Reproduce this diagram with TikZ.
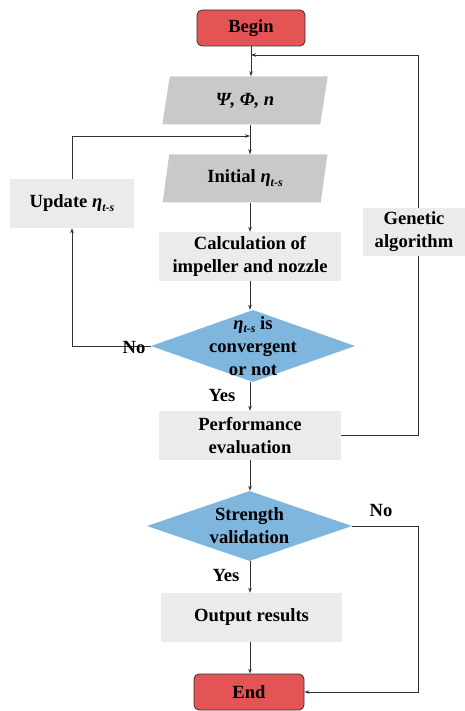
\documentclass[tikz,border=0pt]{standalone}
\usepackage{fontspec}
\setmainfont{Liberation Serif}
\usetikzlibrary{shapes.geometric,arrows.meta,backgrounds}
\definecolor{redfill}{RGB}{229,84,84}
\definecolor{parafill}{RGB}{200,201,203}
\definecolor{boxfill}{RGB}{235,235,235}
\definecolor{diafill}{RGB}{127,182,222}
\definecolor{linecol}{RGB}{50,50,50}
\newcommand{\etats}{\textit{η}\raisebox{-0.4ex}{\fontsize{12}{12}\selectfont\textit{t-s}}}
\begin{document}
\begin{tikzpicture}[x=1pt,y=-1pt,
  font=\fontsize{18.6}{23}\selectfont\bfseries,
  term/.style={draw=linecol, line width=0.8pt, fill=redfill, rounded corners=5pt, minimum width=108pt, minimum height=36pt, inner sep=0pt},
  io/.style={shape=trapezium, trapezium left angle=79, trapezium right angle=101, trapezium stretches=true, fill=parafill, minimum width=166pt, minimum height=48pt, inner sep=0pt},
  proc/.style={fill=boxfill, minimum height=49pt, inner sep=0pt, align=center},
  dia/.style={shape=diamond, fill=diafill, inner sep=0pt},
  lbl/.style={inner sep=0pt},
  arr/.style={draw=linecol, line width=0.7pt, -{Stealth[length=5pt,width=3.5pt]}},
  ln/.style={draw=linecol, line width=0.7pt}]
\useasboundingbox (0,0) rectangle (465,711);
\node[term] (begin) at (251,28) {Begin};
\node[io] (psi) at (245,100.5) {\textit{Ψ, Φ, n}};
\node[io] (init) at (245,178.5) {Initial \etats};
\node[proc, minimum width=124pt] (upd) at (72,203.5) {Update \etats};
\node[proc, minimum width=182pt] (calc) at (250,256.5) {Calculation of\\impeller and nozzle};
\node[proc, minimum width=102pt, minimum height=48pt] (gen) at (414,232) {Genetic\\algorithm};
\node[dia, minimum width=204pt, minimum height=72pt] (d1) at (253,346) {};
\node[lbl, align=center] (d1t) at (d1.center) {\etats{} is\\convergent\\or not};
\node[proc, minimum width=182pt] (perf) at (250,435.5) {Performance\\evaluation};
\node[dia, minimum width=205pt, minimum height=70pt] (d2) at (249.5,526) {};
\node[lbl, align=center] (d2t) at (d2.center) {Strength\\validation};
\node[proc, minimum width=181pt] (out) at (251.5,617.5) {Output results};
\node[term, minimum width=110pt] (endn) at (249,692) {End};
\node[lbl] (no1) at (134,347) {No};
\node[lbl] (yes1) at (222,395) {Yes};
\node[lbl] (no2) at (381,510) {No};
\node[lbl] (yes2) at (226,575) {Yes};
\coordinate (j1) at (250,136);
\coordinate (j2) at (251,55);
\coordinate (gx) at (418,0);
\coordinate (sp) at (250,0);
\begin{pgfonlayer}{background}
\draw[arr] (begin.south) -- (begin.south |- psi.north);
\draw[arr] (psi.south -| sp) -- (init.north -| sp);
\draw[arr] (init.south -| sp) -- (calc.north -| sp);
\draw[arr] (calc.south -| sp) -- (d1.north -| sp);
\draw[arr] (d1.south -| sp) -- (perf.north -| sp);
\draw[arr] (perf.south -| sp) -- (d2.north -| sp);
\draw[arr] (d2.south -| sp) -- (out.north -| sp);
\draw[arr] (out.south -| sp) -- (endn.north -| sp);
\draw[arr] (d1.west) -| (upd.south);
\draw[arr] (upd.north) |- (j1);
\draw[arr] (perf.east) -- (perf.east -| gx) -- (gx |- j2) -- (j2);
\draw[arr] (d2.east) -- (d2.east -| gx) |- (endn.east);
\end{pgfonlayer}
\end{tikzpicture}
\end{document}
